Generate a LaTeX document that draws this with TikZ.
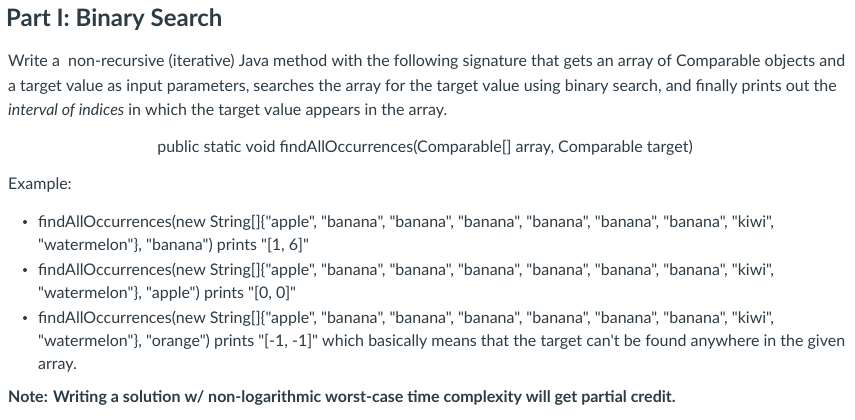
\documentclass[tikz,border=0pt]{standalone}
\usepackage{fontspec}
\setmainfont{Lato}[Ligatures=TeXOff]
\definecolor{txt}{HTML}{2D3B45}
\begin{document}
\begin{tikzpicture}[x=1pt,y=1pt,
  ln/.style={anchor=base west,inner sep=0pt,text=txt,font=\fontsize{16}{19}\selectfont},
  ttl/.style={anchor=base west,inner sep=0pt,text=txt,font=\fontsize{24}{28}\selectfont\bfseries},
  bul/.style={circle,fill=txt,inner sep=0pt,minimum size=4pt}]
\useasboundingbox (0,0) rectangle (855,-420);
\node[ttl] (t) at (6,-27) {Part I: Binary Search};
\node[ln] (p1) at (8,-67) {Write a \ non-recursive (iterative) Java method with the following signature that gets an array of Comparable objects and};
\node[ln] (p2) at (8,-92) {a target value as input parameters, searches the array for the target value using binary search, and finally prints out the};
\node[ln] (p3) at (8,-116) {\itshape interval of indices\upshape\ in which the target value appears in the array.};
\node[ln,anchor=base] (sig) at (425,-152) {public static void findAllOccurrences(Comparable[] array, Comparable target)};
\node[ln] (ex) at (8,-189) {Example:};
\node[bul] (b1) at (25,-222) {};
\node[ln] (l1a) at (38,-227) {findAllOccurrences(new String[]\{"apple", "banana", "banana", "banana", "banana", "banana", "banana", "kiwi",};
\node[ln] (l1b) at (38,-250) {"watermelon"\}, "banana") prints "[1, 6]"};
\node[bul] (b2) at (25,-270) {};
\node[ln] (l2a) at (38,-275) {findAllOccurrences(new String[]\{"apple", "banana", "banana", "banana", "banana", "banana", "banana", "kiwi",};
\node[ln] (l2b) at (38,-298) {"watermelon"\}, "apple") prints "[0, 0]"};
\node[bul] (b3) at (25,-318) {};
\node[ln] (l3a) at (38,-323) {findAllOccurrences(new String[]\{"apple", "banana", "banana", "banana", "banana", "banana", "banana", "kiwi",};
\node[ln] (l3b) at (38,-346) {"watermelon"\}, "orange") prints "[-1, -1]" which basically means that the target can't be found anywhere in the given};
\node[ln] (l3c) at (38,-369) {array.};
\node[ln,font=\fontsize{16}{19}\selectfont\bfseries] (n) at (8,-402) {Note: Writing a solution w/ non-logarithmic worst-case time complexity will get partial credit.};
\end{tikzpicture}
\end{document}
